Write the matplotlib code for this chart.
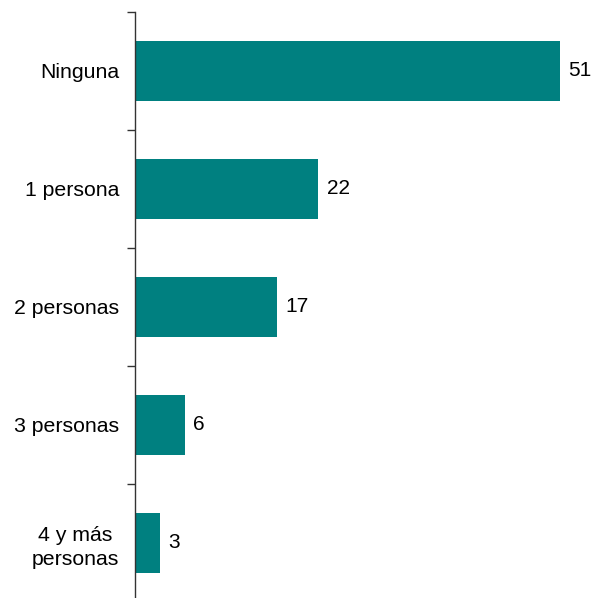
import matplotlib.pyplot as plt
import numpy as np

plt.rcParams['font.family'] = ['Liberation Sans', 'DejaVu Sans']

# Data
categorias = ['Ninguna', '1 persona', '2 personas', '3 personas', '4 y más\npersonas']
valores = [51, 22, 17, 6, 3]

W, H = 596, 598
fig = plt.figure(figsize=(W / 100, H / 100), dpi=100)
px = 425 / 51  # pixels per unit
ax = fig.add_axes([135 / W, -4 / H, 55 * px / W, 590 / H])

pos = np.arange(len(categorias))
bars = ax.barh(pos, valores, height=0.51, color='#008080')

ax.set_xlim(0, 55)
ax.set_ylim(len(categorias) - 0.5, -0.5)

# labels at centres, tick marks at boundaries
ax.set_yticks(pos)
ax.set_yticklabels(categorias, fontsize=15.3, ha='right', multialignment='center',
                   linespacing=1.35)
ax.tick_params(axis='y', which='major', length=0, pad=11.5)
ax.set_yticks(np.arange(-0.5, len(categorias), 1), minor=True)
ax.tick_params(axis='y', which='minor', length=6, width=1, color='#333333')

for b, v in zip(bars, valores):
    ax.annotate(str(v), (b.get_width(), b.get_y() + b.get_height() / 2),
                xytext=(6, 0), textcoords='offset points',
                va='center', ha='left', fontsize=15)

ax.set_xticks([])
for s in ['top', 'right', 'bottom']:
    ax.spines[s].set_visible(False)
ax.spines['left'].set_color('#333333')
ax.spines['left'].set_linewidth(1)

plt.savefig('out.png', dpi=100)
